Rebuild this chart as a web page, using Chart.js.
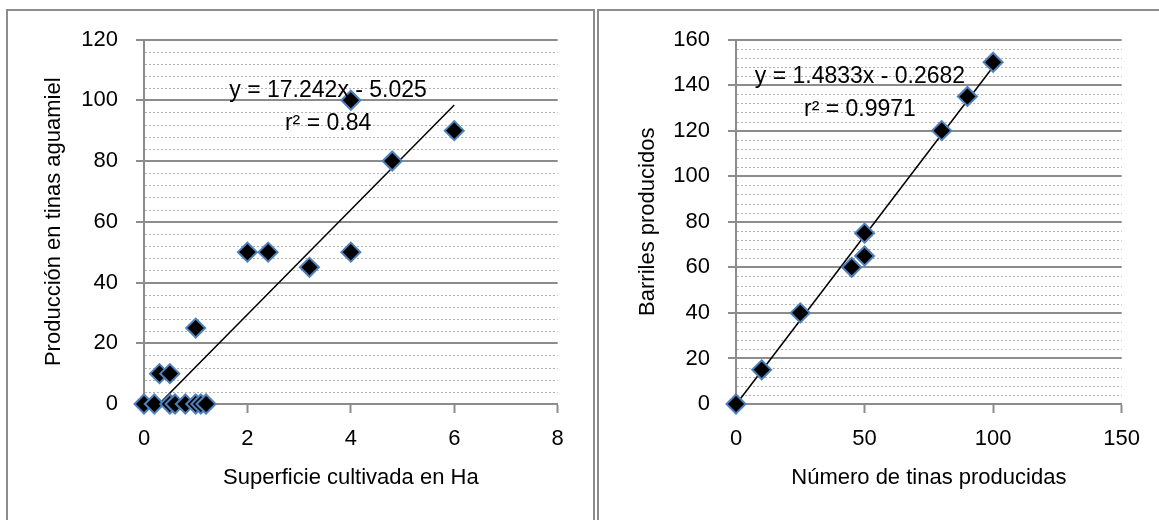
<!DOCTYPE html>
<html>
<head>
<meta charset="utf-8">
<script src="https://cdn.jsdelivr.net/npm/chart.js@4.4.1/dist/chart.umd.min.js"></script>
<style>
  html, body { margin: 0; padding: 0; background: #fff; }
  body { width: 1159px; height: 520px; position: relative; overflow: hidden; }
  .box { position: absolute; top: 9px; border: 2px solid #8c8c8c; box-sizing: border-box; }
  #boxL { left: 6px; width: 589px; height: 530px; }
  #boxR { left: 597px; width: 600px; height: 530px; }
  .wrap { position: absolute; top: 0; height: 520px; }
  #wrapL { left: 0; width: 595px; }
  #wrapR { left: 596px; width: 563px; }
</style>
</head>
<body>
<div class="box" id="boxL"></div>
<div class="box" id="boxR"></div>
<div class="wrap" id="wrapL"><canvas id="left"></canvas></div>
<div class="wrap" id="wrapR"><canvas id="right"></canvas></div>
<script>
// left chart: superficie (Ha) vs producción (tinas)
const superficie = [0, 0.2, 0.5, 0.6, 0.8, 1.0, 1.1, 1.2, 0.3, 0.5, 1.0, 2.0, 2.4, 3.2, 4.0, 4.0, 4.8, 6.0];
const produccion = [0, 0, 0, 0, 0, 0, 0, 0, 10, 10, 25, 50, 50, 45, 50, 100, 80, 90];
const trendLeft = { slope: 17.242, intercept: -5.025 };
const trendLeftText = ["y = 17.242x - 5.025", "r\u00b2 = 0.84"];

// right chart: tinas vs barriles
const tinas = [0, 10, 25, 45, 50, 50, 80, 90, 100];
const barriles = [0, 15, 40, 60, 65, 75, 120, 135, 150];
const trendRight = { slope: 1.4833, intercept: -0.2682 };
const trendRightText = ["y = 1.4833x - 0.2682", "r\u00b2 = 0.9971"];

const GRID = "#8c8c8c";
Chart.defaults.font.family = "'Liberation Sans', Arial, sans-serif";
Chart.defaults.font.size = 22;
Chart.defaults.color = "#000";

// dotted minor lines every 4 units
const minorGrid = {
  id: "minorGrid",
  beforeDatasetsDraw(chart, args, opts) {
    const { ctx, chartArea } = chart;
    const y = chart.scales.y;
    ctx.save();
    ctx.strokeStyle = "#b0b0b0";
    ctx.lineWidth = 1;
    ctx.setLineDash([2, 2]);
    for (let v = opts.step; v < y.max; v += opts.step) {
      if (v % opts.major === 0) continue;
      const py = Math.round(y.getPixelForValue(v)) + 0.5;
      ctx.beginPath();
      ctx.moveTo(chartArea.left + 1, py);
      ctx.lineTo(chartArea.right, py);
      ctx.stroke();
    }
    ctx.restore();
  }
};

const trendLabel = {
  id: "trendLabel",
  afterDatasetsDraw(chart, args, opts) {
    const { ctx } = chart;
    const x = chart.scales.x, y = chart.scales.y;
    ctx.save();
    ctx.font = "23px 'Liberation Sans', Arial, sans-serif";
    ctx.fillStyle = "#000";
    ctx.textAlign = "center";
    ctx.textBaseline = "middle";
    opts.lines.forEach((t, i) => {
      ctx.fillText(t, x.getPixelForValue(opts.at[i][0]), y.getPixelForValue(opts.at[i][1]));
    });
    ctx.restore();
  }
};

function makeChart(id, xs, ys, trend, xMax, xStep, yMax, xTitle, yTitle, labelText, labelAt, layout) {
  const pts = xs.map((v, i) => ({ x: v, y: ys[i] }));
  const x0 = Math.min(...xs), x1 = Math.max(...xs);
  const line = [x0, x1].map(v => ({ x: v, y: trend.slope * v + trend.intercept }));
  return new Chart(document.getElementById(id), {
    type: "scatter",
    data: {
      datasets: [
        { data: line, showLine: true, borderColor: "#000", borderWidth: 1.5, pointRadius: 0, order: 2 },
        { data: pts, pointStyle: "rectRot", pointRadius: 9.5, backgroundColor: "#000",
          borderColor: "#4f81bd", borderWidth: 2, order: 1, clip: false }
      ]
    },
    options: {
      responsive: true,
      maintainAspectRatio: false,
      animation: false,
      events: [],
      layout: { padding: { left: 0, top: 39.5, right: layout.right, bottom: 0 } },
      plugins: {
        legend: { display: false },
        tooltip: { enabled: false },
        minorGrid: { step: 4, major: 20 },
        trendLabel: { lines: labelText, at: labelAt }
      },
      scales: {
        x: {
          type: "linear", min: 0, max: xMax,
          ticks: { stepSize: xStep, padding: 13 },
          grid: { drawOnChartArea: false, drawTicks: true, tickLength: 9, tickColor: GRID, tickWidth: 2 },
          border: { color: GRID, width: 2 },
          title: { display: true, text: xTitle, padding: { top: 0, bottom: 29 } },
          afterFit: s => { s.height = 116; }
        },
        y: {
          min: 0, max: yMax,
          ticks: { stepSize: 20, padding: 18 },
          grid: { color: GRID, lineWidth: 2, tickLength: 8, tickColor: GRID, tickWidth: 2 },
          border: { color: GRID, width: 2 },
          title: { display: true, text: yTitle, padding: { top: layout.yTitle, bottom: 0 } },
          afterFit: s => { s.width = layout.left; }
        }
      }
    },
    plugins: [minorGrid, trendLabel]
  });
}

makeChart("left", superficie, produccion, trendLeft, 8, 2, 120,
  "Superficie cultivada en Ha", "Producción en tinas aguamiel",
  trendLeftText, [[3.56, 103], [3.56, 92.4]],
  { left: 144, right: 37.3, yTitle: 40.8 });

makeChart("right", tinas, barriles, trendRight, 150, 50, 160,
  "Número de tinas producidas", "Barriles producidos",
  trendRightText, [[48.2, 143.5], [48.2, 129]],
  { left: 140, right: 37.3, yTitle: 38.8 });
</script>
</body>
</html>
